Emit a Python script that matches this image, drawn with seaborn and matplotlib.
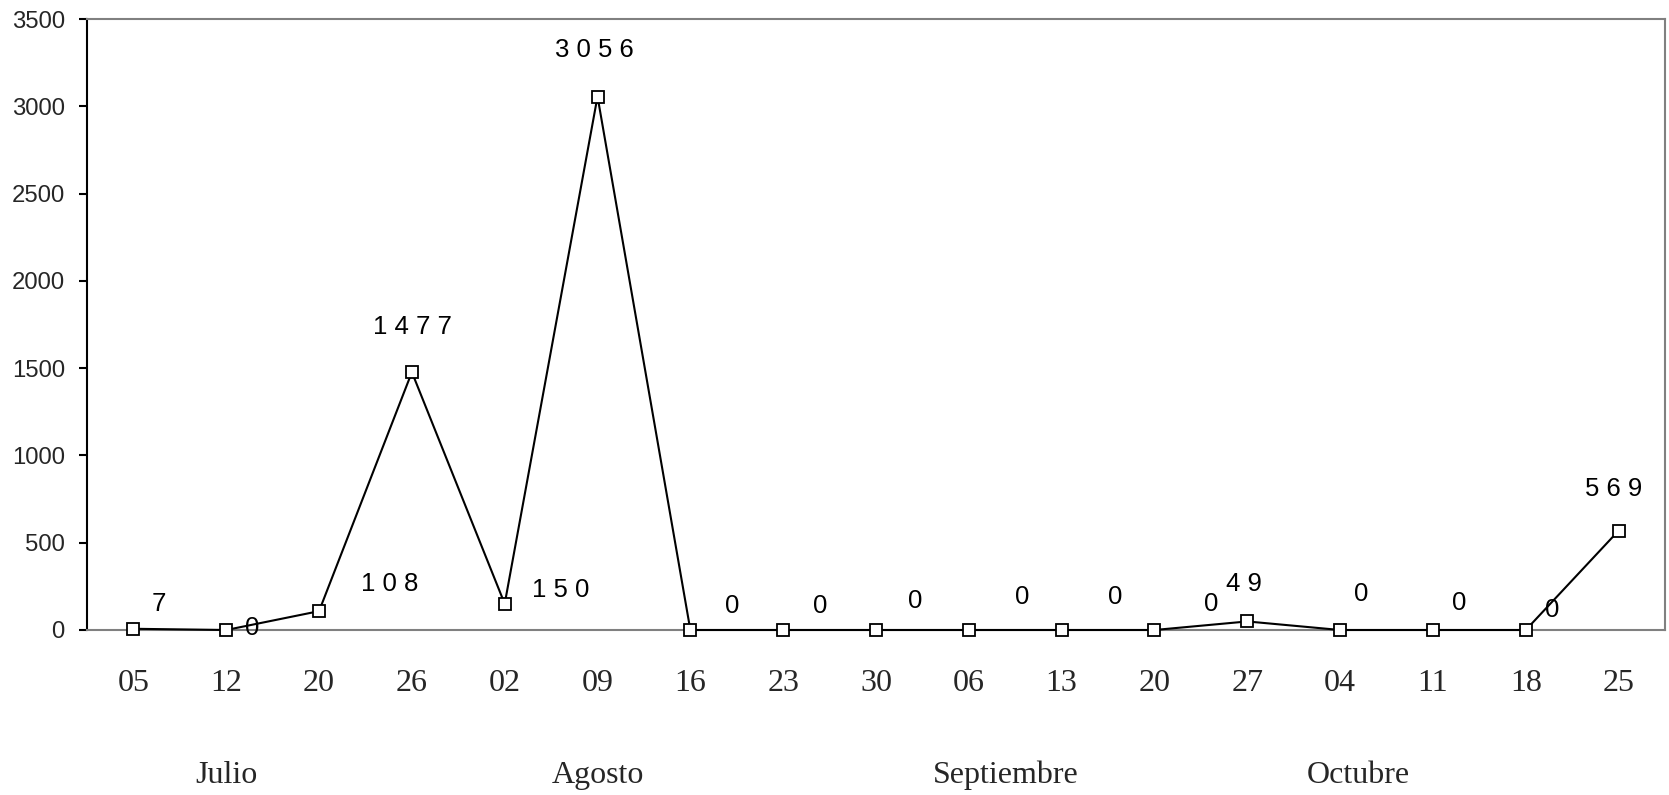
import matplotlib
matplotlib.use("Agg")
import matplotlib.pyplot as plt
import seaborn as sns
import pandas as pd
import numpy as np

# ---- data ----
day_labels = ["05", "12", "20", "26", "02", "09", "16", "23", "30",
              "06", "13", "20", "27", "04", "11", "18", "25"]
values = [7, 0, 108, 1477, 150, 3056, 0, 0, 0, 0, 0, 0, 49, 0, 0, 0, 569]
months = ["Julio", "Agosto", "Septiembre", "Octubre"]
month_pos = [1.0, 5.0, 9.4, 13.2]
y_ticks = [0, 500, 1000, 1500, 2000, 2500, 3000, 3500]

# label offsets in pixels (dx, dy) - styling only
label_offsets = [(25, 25), (26, 2), (71, 27), (1, 45), (56, 14), (-3, 47),
                 (42, 24), (37, 24), (39, 29), (53, 33), (54, 33), (57, 26),
                 (-3, 37), (21, 36), (26, 27), (26, 20), (-5, 42)]

sns.set_style("white")
plt.rcParams['font.family'] = ['Liberation Sans', 'DejaVu Sans']

df = pd.DataFrame({"pos": np.arange(len(values)), "value": values})

fig = plt.figure(figsize=(16.69, 7.95), dpi=100)
ax = fig.add_axes([87/1669, 1-630/795, (1665-87)/1669, (630-19)/795])

sns.lineplot(data=df, x="pos", y="value", ax=ax, color="black", linewidth=1.5,
             marker="s", markersize=8, markerfacecolor="white",
             markeredgecolor="black", markeredgewidth=1.3)
for ln in ax.lines:
    ln.set_clip_on(False)
    ln.set_zorder(5)

ax.set_xlim(-0.5, len(values) - 0.5)
ax.set_ylim(0, 3500)
ax.set_yticks(y_ticks)
ax.set_yticklabels([str(t) for t in y_ticks], fontsize=17.2, fontfamily="Liberation Sans")
ax.set_xticks(df["pos"])
ax.set_xticklabels(day_labels, fontsize=23, fontfamily="Liberation Serif")
ax.tick_params(axis="y", length=6, width=1.5, color="black", pad=10, direction="out", left=True)
ax.tick_params(axis="x", length=0, pad=28)
ax.set_xlabel("")
ax.set_ylabel("")

for side in ["top", "right", "bottom"]:
    ax.spines[side].set_color("#808080")
    ax.spines[side].set_linewidth(1.5)
ax.spines["left"].set_color("black")
ax.spines["left"].set_linewidth(1.5)

for i, v in enumerate(values):
    dx, dy = label_offsets[i]
    ax.annotate(" ".join(str(v)), xy=(i, v), xytext=(dx, dy),
                textcoords="offset pixels", ha="center", va="center",
                fontsize=18.5, fontfamily="Liberation Sans", color="black")

for m, p in zip(months, month_pos):
    ax.text(p, -0.2504, m, transform=ax.get_xaxis_transform(), ha="center",
            va="baseline", fontsize=23, fontfamily="Liberation Serif")

fig.savefig("out.png", dpi=100)
